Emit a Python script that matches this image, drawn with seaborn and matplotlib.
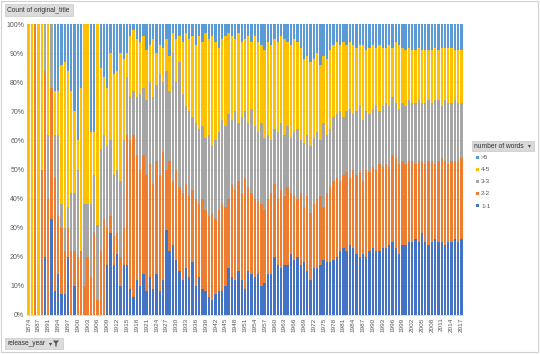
import numpy as np
import pandas as pd
import matplotlib
matplotlib.use("Agg")
import matplotlib.pyplot as plt
from matplotlib.patches import Rectangle, Polygon
import seaborn as sns

# ---------------- data ----------------
years = [1874, 1878, 1883, 1887, 1888, 1890, 1891, 1892, 1893] + list(range(1894, 2018))

one_one = [0, 0, 0, 0, 0, 20, 0, 33, 8, 14, 7, 7, 20, 0, 10, 0, 0, 0, 0, 0,
           0, 0, 0, 0, 17, 28, 17, 21, 10, 17, 17, 9, 6, 12,
           10, 14, 8, 13, 9, 14, 8, 12, 29, 22, 24, 19, 15, 12, 16, 13, 18, 10, 13, 9,
           8, 6, 5, 7, 8, 8, 10, 16, 13, 12, 15, 12, 9, 15, 14, 13, 14, 10, 11, 14,
           14, 20, 17, 16, 17, 17, 21, 19,
           20, 17, 18, 15, 12, 16, 16, 17, 19, 18, 18, 19, 20, 22, 23, 22, 24, 23, 21, 20,
           21, 20, 22, 23, 22, 22, 23, 23, 24, 25, 23, 21, 24, 24, 25, 25, 26, 25, 28, 25,
           24, 25, 26, 25, 25, 24, 25, 25, 26, 25, 26]
two_two = [0, 0, 100, 0, 50, 64, 40, 45, 39, 20, 23, 15, 10, 22, 12, 20, 22, 10, 20, 13,
           28, 5, 22, 33, 13, 6, 10, 7, 10, 13, 45, 51, 56, 43,
           40, 41, 40, 39, 36, 39, 40, 44, 21, 31, 22, 31, 29, 30, 29, 28, 25, 30, 25, 31,
           28, 28, 30, 26, 28, 30, 27, 24, 32, 31, 31, 30, 38, 29, 28, 27, 25, 28, 25, 26,
           28, 25, 23, 27, 24, 27, 21, 22,
           20, 25, 19, 26, 23, 22, 24, 24, 18, 24, 26, 27, 27, 24, 25, 27, 23, 27, 27, 29,
           25, 30, 27, 28, 28, 30, 28, 29, 27, 30, 31, 31, 29, 28, 28, 28, 26, 28, 25, 27,
           29, 28, 26, 28, 29, 29, 27, 28, 27, 28, 28]
three_three = [0, 0, 0, 0, 0, 16, 22, 22, 15, 28, 8, 8, 7, 20, 20, 30, 0, 28, 18, 25,
               20, 26, 35, 29, 28, 26, 21, 22, 26, 30, 20, 15, 15, 20,
               26, 23, 26, 28, 30, 26, 35, 24, 34, 24, 44, 30, 43, 34, 27, 29, 25, 26, 26, 25,
               25, 28, 23, 27, 27, 29, 28, 29, 22, 27, 20, 26, 23, 22, 29, 25, 24, 28, 25, 22,
               18, 19, 23, 23, 21, 21, 19, 22,
               24, 18, 22, 21, 23, 23, 23, 19, 29, 20, 20, 22, 22, 24, 20, 21, 24, 19, 22, 23,
               21, 20, 20, 20, 22, 18, 21, 21, 21, 20, 19, 19, 20, 20, 21, 20, 21, 21, 20, 21,
               21, 20, 22, 21, 18, 21, 21, 20, 21, 20, 19]
four_five = [100, 100, 0, 100, 50, 0, 38, 0, 15, 15, 48, 57, 47, 35, 28, 10, 56, 62, 62, 25,
             15, 69, 28, 20, 20, 30, 35, 34, 44, 28, 8, 21, 21, 20,
             18, 18, 17, 13, 20, 11, 10, 12, 11, 12, 7, 15, 9, 18, 25, 25, 28, 27, 32, 29,
             36, 33, 38, 34, 29, 28, 31, 28, 29, 25, 31, 26, 25, 30, 23, 31, 31, 27, 30, 32,
             33, 31, 31, 30, 33, 29, 32, 32,
             30, 32, 29, 27, 29, 27, 27, 26, 23, 26, 27, 25, 25, 23, 26, 23, 23, 24, 22, 21,
             26, 21, 23, 22, 20, 23, 20, 19, 21, 17, 21, 22, 19, 19, 18, 18, 18, 18, 18, 18,
             17, 18, 18, 17, 20, 18, 19, 19, 17, 18, 18]
over_five = [0, 0, 0, 0, 0, 0, 0, 0, 23, 23, 14, 13, 16, 23, 30, 40, 22, 0, 0, 37,
             37, 0, 15, 18, 22, 10, 17, 16, 10, 12, 10, 4, 2, 5,
             6, 4, 9, 7, 5, 10, 7, 8, 5, 11, 3, 5, 4, 6, 3, 5, 4, 7, 4, 6,
             3, 5, 4, 6, 8, 5, 4, 3, 4, 5, 3, 6, 5, 4, 6, 4, 6, 7, 9, 6,
             7, 5, 6, 4, 5, 6, 7, 5,
             6, 8, 12, 11, 13, 12, 10, 14, 11, 12, 9, 7, 6, 7, 6, 7, 6, 7, 8, 7,
             7, 9, 8, 7, 8, 7, 8, 8, 7, 8, 6, 7, 8, 9, 8, 9, 9, 8, 9, 9,
             9, 9, 8, 9, 8, 8, 8, 8, 9, 9, 9]

series_names = ["1-1", "2-2", "3-3", "4-5", ">5"]
series_colors = ["#4472C4", "#ED7D31", "#A5A5A5", "#FFC000", "#5B9BD5"]

# ---------------- build table ----------------
cats = [str(y) for y in years]
vals = np.array([one_one, two_two, three_three, four_five, over_five], dtype=float)
share = vals / vals.sum(axis=0, keepdims=True)
cum = np.cumsum(share, axis=0)

W, H = 540, 354
fig = plt.figure(figsize=(W / 100, H / 100), dpi=100)
fig.patch.set_facecolor("white")
sns.set_style("white")
plt.rcParams["font.family"] = ["Liberation Sans", "DejaVu Sans"]

x0, x1 = 27, 463
y_top, y_bot = 24.3, 314.7
ax = fig.add_axes([x0 / W, 1 - y_bot / H, (x1 - x0) / W, (y_bot - y_top) / H])
ax.set_facecolor("white")

for k in range(4, -1, -1):
    sns.barplot(x=cats, y=cum[k], order=cats, color=series_colors[k], saturation=1,
                width=0.72, linewidth=0, ax=ax, zorder=2)

ax.set_xlim(-0.5, len(cats) - 0.5)
ax.set_ylim(0, 1)
ax.set_xlabel("")
ax.set_ylabel("")
ax.set_yticks(np.arange(0, 1.01, 0.1))
ax.set_yticklabels([f"{int(round(v * 100))}%" for v in np.arange(0, 1.01, 0.1)],
                   fontsize=5, color="#595959")
ax.set_xticks(range(0, len(cats), 3))
ax.set_xticklabels(cats[::3], rotation=90, fontsize=4.6, color="#595959")
ax.tick_params(axis="both", length=0, pad=2)
for s in ["top", "right", "left"]:
    ax.spines[s].set_visible(False)
ax.spines["bottom"].set_color("#D9D9D9")
ax.spines["bottom"].set_linewidth(0.6)
ax.yaxis.grid(True, color="#E4E4E4", linewidth=0.5, zorder=0)
ax.set_axisbelow(True)


def fx(px):
    return px / W


def fy(py):
    return 1 - py / H


# outer border
fig.add_artist(Rectangle((fx(1), fy(352)), fx(537), (351) / H, transform=fig.transFigure,
                         fill=False, edgecolor="#D0D0D0", linewidth=0.8))

# top-left field button
fig.add_artist(Rectangle((fx(5), fy(16)), fx(68), 12 / H, transform=fig.transFigure,
                         facecolor="#DCDCDC", edgecolor="#C8C8C8", linewidth=0.5))
fig.text(fx(7), fy(10), "Count of original_title", fontsize=4.8, color="#333333",
         va="center", ha="left")

# bottom-left field button
fig.add_artist(Rectangle((fx(5), fy(349)), fx(58), 11 / H, transform=fig.transFigure,
                         facecolor="#DCDCDC", edgecolor="#C8C8C8", linewidth=0.5))
fig.text(fx(7), fy(343.5), "release_year", fontsize=4.8, color="#333333",
         va="center", ha="left")
fig.text(fx(49), fy(343.5), "▾", fontsize=4.5, color="#444444", va="center", ha="left",
         family=["DejaVu Sans"])
fig.add_artist(Polygon([[fx(53), fy(340.5)], [fx(59), fy(340.5)], [fx(56.7), fy(343.5)],
                        [fx(56.7), fy(346.5)], [fx(55.3), fy(346.5)], [fx(55.3), fy(343.5)]],
                       closed=True, transform=fig.transFigure, facecolor="#555555",
                       edgecolor="none"))

# legend
fig.add_artist(Rectangle((fx(472), fy(151)), fx(62), 10 / H, transform=fig.transFigure,
                         facecolor="#D9D9D9", edgecolor="#C8C8C8", linewidth=0.5))
fig.text(fx(474), fy(146), "number of words", fontsize=4.8, color="#333333",
         va="center", ha="left")
fig.text(fx(528), fy(146), "▾", fontsize=4.2, color="#444444", va="center", ha="left",
         family=["DejaVu Sans"])
leg_y = [157, 169.3, 181.7, 193.5, 206]
for j, k in enumerate(range(4, -1, -1)):
    yy = leg_y[j]
    fig.add_artist(Rectangle((fx(475.5), fy(yy + 1.5)), fx(3), 3 / H,
                             transform=fig.transFigure, facecolor=series_colors[k],
                             edgecolor="none"))
    fig.text(fx(481), fy(yy), series_names[k], fontsize=4.6, color="#595959",
             va="center", ha="left")

fig.savefig("out.png", dpi=100, facecolor="white")
